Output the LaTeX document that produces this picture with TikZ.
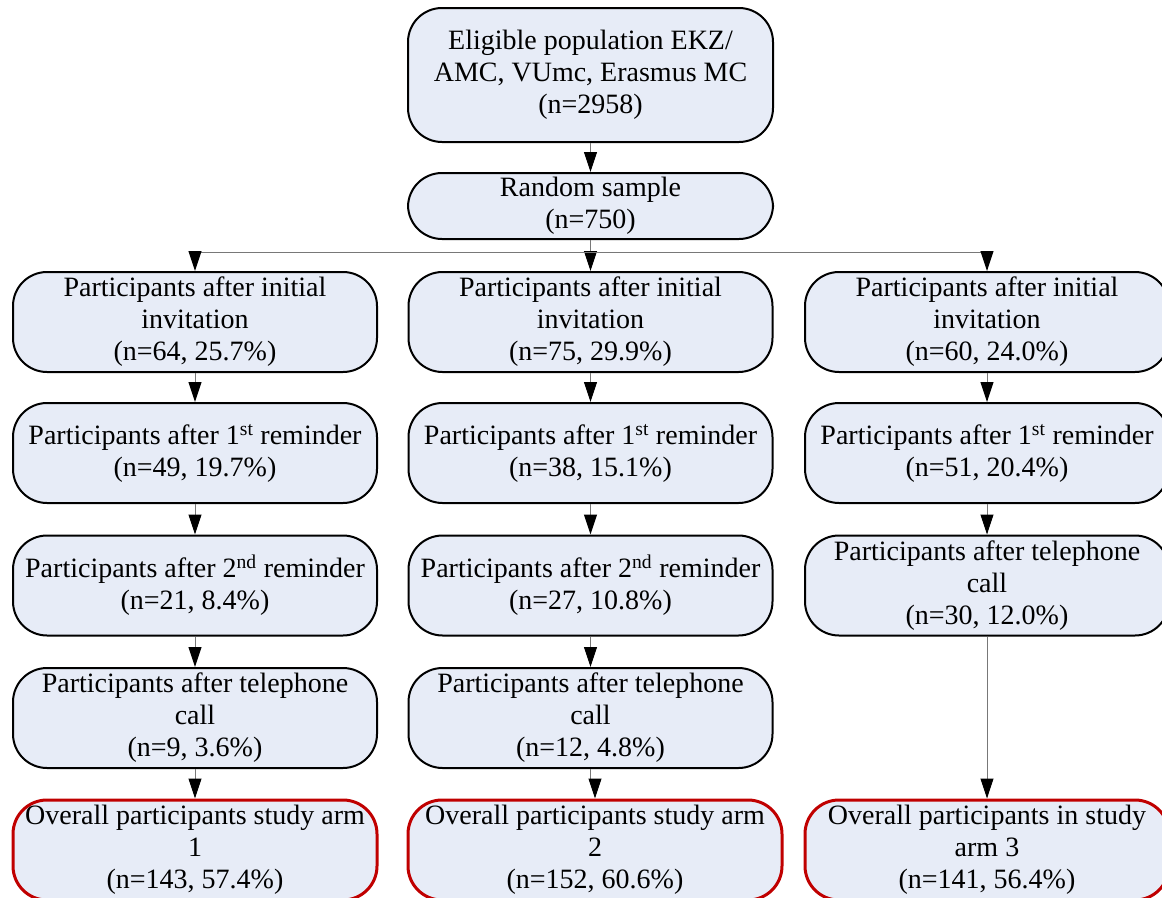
\documentclass[tikz,border=0pt]{standalone}
\usepackage{fontspec}
\setmainfont{Liberation Serif}
\usetikzlibrary{arrows.meta}
\definecolor{boxfill}{RGB}{231,236,247}
\definecolor{boxred}{RGB}{192,0,0}
\definecolor{linegray}{RGB}{120,120,120}
\tikzset{
  box/.style={draw=black, line width=2pt, fill=boxfill, rounded corners=34pt,
    minimum width=364pt, minimum height=100pt, inner sep=0pt, align=center,
    font=\fontsize{28}{32}\selectfont},
  redbox/.style={box, draw=boxred, line width=3pt},
  conn/.style={draw=linegray, line width=1pt,
    -{Triangle[width=13pt,length=20pt,color=black,fill=black]}},
}
\begin{document}
\begin{tikzpicture}[x=1pt,y=-1pt]
\useasboundingbox (0,0) rectangle (1162,897);
\clip (0,0) rectangle (1162,897);
\node[box, minimum width=365pt, minimum height=134pt] (top) at (590.5,75)
  {Eligible population EKZ/\\AMC, VUmc, Erasmus MC\\(n=2958)};
\node[box, minimum width=365pt, minimum height=66pt] (rs) at (590.5,206)
  {Random sample\\(n=750)};
% column 1
\node[box] (a1) at (195,322) {Participants after initial\\invitation\\(n=64, 25.7\%)};
\node[box] (a2) at (195,453) {Participants after 1\textsuperscript{st} reminder\\(n=49, 19.7\%)};
\node[box] (a3) at (195,585.5) {Participants after 2\textsuperscript{nd} reminder\\(n=21, 8.4\%)};
\node[box] (a4) at (195,718) {Participants after telephone\\call\\(n=9, 3.6\%)};
\node[redbox] (a5) at (195,850) {Overall participants study arm\\1\\(n=143, 57.4\%)};
% column 2
\node[box] (b1) at (590.5,322) {Participants after initial\\invitation\\(n=75, 29.9\%)};
\node[box] (b2) at (590.5,453) {Participants after 1\textsuperscript{st} reminder\\(n=38, 15.1\%)};
\node[box] (b3) at (590.5,585.5) {Participants after 2\textsuperscript{nd} reminder\\(n=27, 10.8\%)};
\node[box] (b4) at (590.5,718) {Participants after telephone\\call\\(n=12, 4.8\%)};
\node[redbox, minimum width=374pt] (b5) at (595,850) {Overall participants study arm\\2\\(n=152, 60.6\%)};
% column 3
\node[box] (c1) at (987,322) {Participants after initial\\invitation\\(n=60, 24.0\%)};
\node[box] (c2) at (987,453) {Participants after 1\textsuperscript{st} reminder\\(n=51, 20.4\%)};
\node[box] (c3) at (987,585.5) {Participants after telephone\\call\\(n=30, 12.0\%)};
\node[redbox] (c5) at (987,850) {Overall participants in study\\arm 3\\(n=141, 56.4\%)};
% connectors
\draw[conn] (top) -- (rs);
\coordinate (split) at (590.5,252);
\draw[conn] (rs) -- (b1);
\draw[conn] (split) -| (a1.north);
\draw[conn] (split) -| (c1.north);
\draw[conn] (a1) -- (a2);
\draw[conn] (a2) -- (a3);
\draw[conn] (a3) -- (a4);
\draw[conn] (a4) -- (a5);
\draw[conn] (b1) -- (b2);
\draw[conn] (b2) -- (b3);
\draw[conn] (b3) -- (b4);
\draw[conn] (b4.south) -- ++(0,14) -| (b5.north);
\draw[conn] (c1) -- (c2);
\draw[conn] (c2) -- (c3);
\draw[conn] (c3) -- (c5);
\end{tikzpicture}
\end{document}
